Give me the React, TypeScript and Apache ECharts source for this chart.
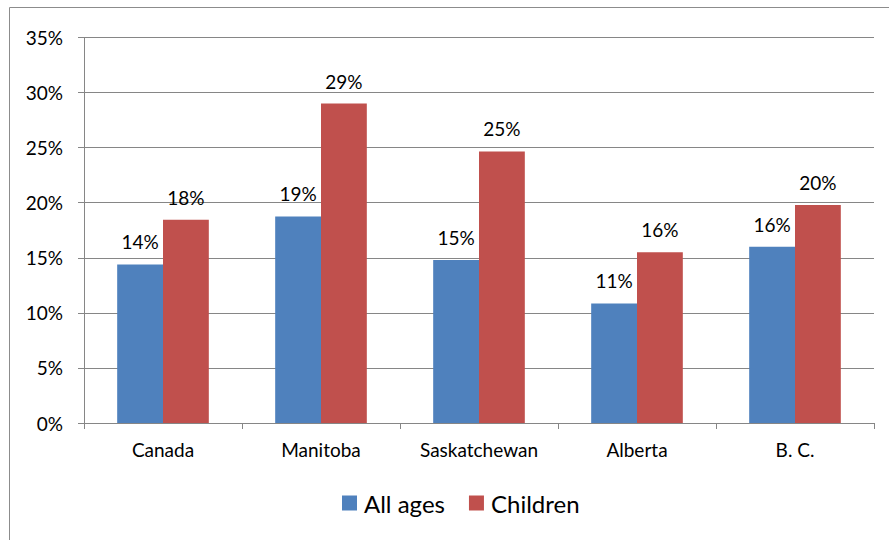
import React, { useEffect, useRef } from "react";
import * as echarts from "echarts";

const categories = ["Canada", "Manitoba", "Saskatchewan", "Alberta", "B. C."];
const allAges = [14.4, 18.75, 14.8, 10.85, 16.0];
const children = [18.45, 29.0, 24.65, 15.5, 19.8];
const yTicks = [0, 5, 10, 15, 20, 25, 30, 35];

const FONT = "Lato, 'Open Sans', sans-serif";

export default function App() {
  const ref = useRef<HTMLDivElement>(null);
  useEffect(() => {
    if (!ref.current) return;
    const chart = echarts.init(ref.current, null, { renderer: "svg" });
    const label = {
      show: true,
      position: "top" as const,
      distance: 13,
      color: "#000",
      fontSize: 19,
      fontFamily: FONT,
      formatter: (p: any) => Math.round(p.value) + "%",
    };
    chart.setOption({
      animation: false,
      backgroundColor: "#fff",
      graphic: [
        {
          type: "rect",
          shape: { x: 9.5, y: 7.5, width: 900, height: 600 },
          style: { fill: "none", stroke: "#8c8c8c", lineWidth: 1 },
          silent: true,
        },
      ],
      grid: { left: 84, right: 15, top: 37.5, bottom: 117, containLabel: false },
      legend: {
        data: ["All ages", "Children"],
        top: 486,
        left: 337,
        itemWidth: 15,
        itemHeight: 15,
        itemGap: 24,
        icon: "rect",
        textStyle: { fontSize: 24, fontFamily: FONT, color: "#000", padding: [0, 0, 0, 2] },
      },
      xAxis: {
        type: "category",
        data: categories,
        axisLine: { lineStyle: { color: "#868686" } },
        axisTick: { show: true, length: 6, lineStyle: { color: "#868686" } },
        axisLabel: { fontSize: 19, fontFamily: FONT, color: "#000", margin: 17 },
      },
      yAxis: {
        type: "value",
        min: yTicks[0],
        max: yTicks[yTicks.length - 1],
        interval: 5,
        axisLine: { show: true, lineStyle: { color: "#868686" } },
        axisTick: { show: true, length: 6, lineStyle: { color: "#868686" } },
        axisLabel: {
          fontSize: 19,
          fontFamily: FONT,
          color: "#000",
          margin: 21,
          formatter: (v: number) => v + "%",
        },
        splitLine: { lineStyle: { color: "#868686" } },
      },
      series: [
        {
          name: "All ages",
          type: "bar",
          data: allAges,
          barGap: "0%",
          barCategoryGap: "42%",
          itemStyle: { color: "#4F81BD" },
          label,
        },
        {
          name: "Children",
          type: "bar",
          data: children,
          barGap: "0%",
          barCategoryGap: "42%",
          itemStyle: { color: "#C0504D" },
          label,
        },
      ],
    });
    return () => chart.dispose();
  }, []);
  return (
    <div
      ref={ref}
      style={{ position: "fixed", left: 0, top: 0, width: 889, height: 540 }}
    />
  );
}
